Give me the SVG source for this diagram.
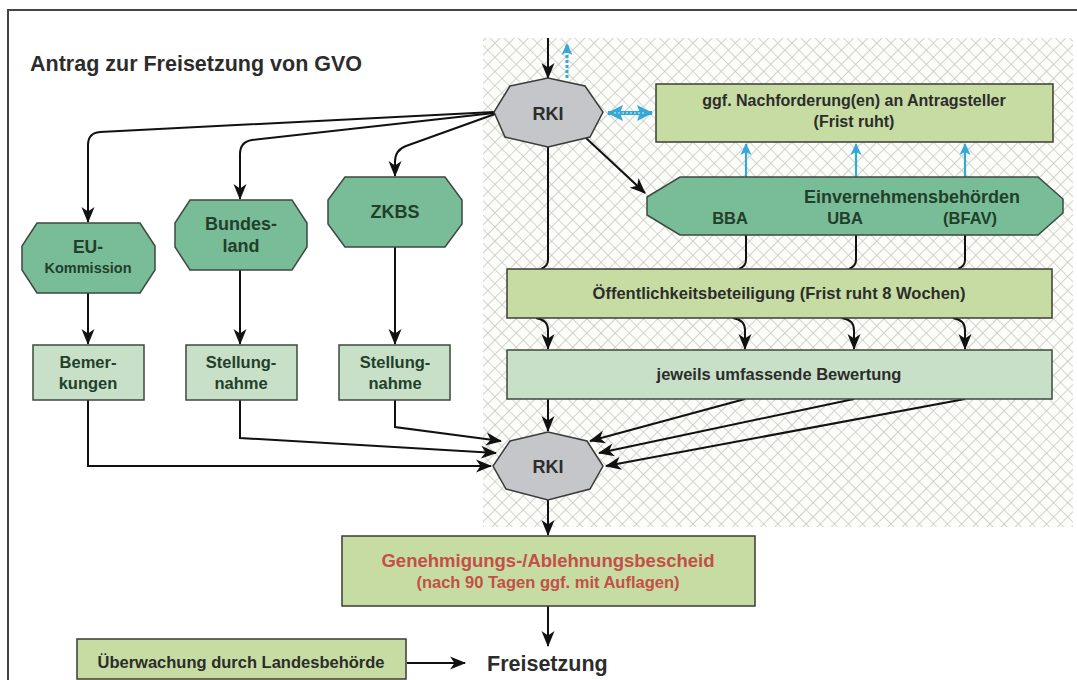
<svg xmlns="http://www.w3.org/2000/svg" width="1077" height="680" viewBox="0 0 1077 680">
<defs>
<pattern id="hatch" patternUnits="userSpaceOnUse" width="10" height="10" patternTransform="rotate(45)">
<rect width="10" height="10" fill="#fcfdf9"/>
<path d="M0,0 H10 M0,0 V10" stroke="#c6c8c3" stroke-width="1.6"/>
</pattern>
<marker id="ah" viewBox="0 0 16 14" refX="15" refY="7" markerWidth="16" markerHeight="14" markerUnits="userSpaceOnUse" orient="auto">
<path d="M0,0.5 L16,7 L0,13.5 L4.5,7 z" fill="#111"/>
</marker>
<marker id="bh" viewBox="0 0 16 16" refX="15" refY="8" markerWidth="16" markerHeight="16" markerUnits="userSpaceOnUse" orient="auto-start-reverse">
<path d="M0,0 L16,8 L0,16 L3,8 z" fill="#35a9d6"/>
</marker>
<marker id="bs" viewBox="0 0 12 12" refX="11" refY="6" markerWidth="12" markerHeight="12" markerUnits="userSpaceOnUse" orient="auto">
<path d="M0,0.5 L12,6 L0,11.5 L3,6 z" fill="#35a9d6"/>
</marker>
</defs>
<style>
.t{font-family:"Liberation Sans",Arial,sans-serif;font-weight:bold;text-anchor:middle}
.s{text-anchor:start}
.dg{fill:#233f2b}
.gy{fill:#2c2c2c}
.oct{fill:#78bd98;stroke:#3c4a40;stroke-width:1.5}
.rki{fill:#c4c6c9;stroke:#3a3a3a;stroke-width:1.5}
.yb{fill:#c6dca2;stroke:#3d3d35;stroke-width:1.5}
.mb{fill:#c7e0c7;stroke:#3d4a3d;stroke-width:1.5}
.c{fill:none;stroke:#111;stroke-width:2}
.b{fill:none;stroke:#35a9d6;stroke-width:2.2}
</style>
<rect width="1077" height="680" fill="#ffffff"/>
<path d="M8,680 V10 H1077" fill="none" stroke="#444" stroke-width="2"/>
<rect x="483" y="38" width="590" height="489" fill="url(#hatch)"/>
<text class="t gy s" x="30" y="71" font-size="21.5">Antrag zur Freisetzung von GVO</text>

<g id="connectors">
<line class="c" x1="548" y1="38" x2="548" y2="78" marker-end="url(#ah)"/>
<path class="c" d="M494,112 L100,132 Q88,133 88,145 L88,222" marker-end="url(#ah)"/>
<path class="c" d="M494,113 L252,140 Q240,142 240,154 L240,199" marker-end="url(#ah)"/>
<path class="c" d="M495,114 L406,146 Q395,150 395,162 L395,176" marker-end="url(#ah)"/>
<line class="c" x1="586" y1="138" x2="645" y2="193" marker-end="url(#ah)"/>
<line class="c" x1="88" y1="293" x2="88" y2="344" marker-end="url(#ah)"/>
<line class="c" x1="240" y1="270" x2="240" y2="344" marker-end="url(#ah)"/>
<line class="c" x1="395" y1="247" x2="395" y2="344" marker-end="url(#ah)"/>
<path class="c" d="M548,147 L548,260 Q548,266 541,269"/>
<path class="c" d="M746,235 L746,260 Q746,266 739,269"/>
<path class="c" d="M856,235 L856,260 Q856,266 849,269"/>
<path class="c" d="M965,235 L965,260 Q965,266 958,269"/>
<path class="c" d="M536,318 Q548,320 548,330 L548,349" marker-end="url(#ah)"/>
<path class="c" d="M733,318 Q745,320 745,330 L745,349" marker-end="url(#ah)"/>
<path class="c" d="M842,318 Q854,320 854,330 L854,349" marker-end="url(#ah)"/>
<path class="c" d="M953,318 Q965,320 965,330 L965,349" marker-end="url(#ah)"/>
<line class="c" x1="548" y1="399" x2="548" y2="431" marker-end="url(#ah)"/>
<line class="c" x1="745" y1="399" x2="590" y2="441" marker-end="url(#ah)"/>
<line class="c" x1="854" y1="399" x2="599" y2="453" marker-end="url(#ah)"/>
<line class="c" x1="965" y1="399" x2="606" y2="466" marker-end="url(#ah)"/>
<path class="c" d="M88,400 L88,466 L491,466" marker-end="url(#ah)"/>
<path class="c" d="M240,400 L240,438 L496,453" marker-end="url(#ah)"/>
<path class="c" d="M395,400 L395,427 L501,441" marker-end="url(#ah)"/>
<line class="c" x1="548" y1="500" x2="548" y2="535" marker-end="url(#ah)"/>
<line class="c" x1="548" y1="606" x2="548" y2="646" marker-end="url(#ah)"/>
<line class="c" x1="407" y1="663" x2="465" y2="663" marker-end="url(#ah)"/>
<line x1="608" y1="113" x2="652" y2="113" stroke="#35a9d6" stroke-width="4" marker-start="url(#bh)" marker-end="url(#bh)"/>
<line x1="614" y1="113" x2="646" y2="113" stroke="#d8f0f8" stroke-width="1" stroke-dasharray="2,2"/>
<line x1="567" y1="78" x2="567" y2="44" stroke="#35a9d6" stroke-width="3" stroke-dasharray="3,2" marker-end="url(#bs)"/>
<line class="b" x1="746" y1="177" x2="746" y2="144" marker-end="url(#bs)"/>
<line class="b" x1="856" y1="177" x2="856" y2="144" marker-end="url(#bs)"/>
<line class="b" x1="965" y1="177" x2="965" y2="144" marker-end="url(#bs)"/>
</g>

<g id="rki1">
<polygon class="rki" points="510,86 548,78 585,86 603,112 590,137 548,147 505,137 494,112"/>
<text class="t gy" x="548" y="120" font-size="18">RKI</text>
</g>
<g id="nachforderung">
<rect class="yb" x="656" y="84" width="397" height="58"/>
<text class="t gy" x="854" y="106" font-size="16">ggf. Nachforderung(en) an Antragsteller</text>
<text class="t gy" x="854" y="127" font-size="16">(Frist ruht)</text>
</g>
<g id="einvernehmen">
<polygon class="oct" points="680,177 1038,177 1063,199 1063,213 1038,235 680,235 647,215 647,197"/>
<text class="t dg" x="912" y="203" font-size="18">Einvernehmensbehörden</text>
<text class="t dg" x="730" y="224" font-size="16.5">BBA</text>
<text class="t dg" x="845" y="224" font-size="16.5">UBA</text>
<text class="t dg" x="970" y="224" font-size="16.5">(BFAV)</text>
</g>
<g id="eu">
<polygon class="oct" points="37,223 140,223 155,246 155,270 140,293 37,293 22,270 22,246"/>
<text class="t dg" x="88" y="253" font-size="17.5">EU-</text>
<text class="t dg" x="88" y="273" font-size="14.5">Kommission</text>
</g>
<g id="bundesland">
<polygon class="oct" points="190,200 292,200 307,223 307,247 292,270 190,270 175,247 175,223"/>
<text class="t dg" x="241" y="230" font-size="18">Bundes-</text>
<text class="t dg" x="241" y="252" font-size="18">land</text>
</g>
<g id="zkbs">
<polygon class="oct" points="345,177 445,177 462,200 462,224 445,247 345,247 328,224 328,200"/>
<text class="t dg" x="395" y="218" font-size="18">ZKBS</text>
</g>
<g id="bemerkungen">
<rect class="mb" x="33" y="345" width="111" height="55"/>
<text class="t dg" x="88" y="368" font-size="16.5">Bemer-</text>
<text class="t dg" x="88" y="389" font-size="16.5">kungen</text>
</g>
<g id="stellungnahme1">
<rect class="mb" x="186" y="345" width="111" height="55"/>
<text class="t dg" x="241" y="368" font-size="16.5">Stellung-</text>
<text class="t dg" x="241" y="389" font-size="16.5">nahme</text>
</g>
<g id="stellungnahme2">
<rect class="mb" x="339" y="345" width="111" height="55"/>
<text class="t dg" x="395" y="368" font-size="16.5">Stellung-</text>
<text class="t dg" x="395" y="389" font-size="16.5">nahme</text>
</g>
<g id="oeffentlichkeit">
<rect class="yb" x="507" y="269" width="545" height="49"/>
<text class="t gy" x="779" y="299" font-size="16.5">Öffentlichkeitsbeteiligung (Frist ruht 8 Wochen)</text>
</g>
<g id="bewertung">
<rect class="mb" x="507" y="350" width="545" height="49"/>
<text class="t gy" x="779" y="380" font-size="16.5">jeweils umfassende Bewertung</text>
</g>
<g id="rki2">
<polygon class="rki" points="510,441 548,432 587,441 603,466 590,489 548,500 506,489 493,466"/>
<text class="t gy" x="548" y="473" font-size="18">RKI</text>
</g>
<g id="bescheid">
<rect class="yb" x="342" y="536" width="413" height="70"/>
<text class="t" x="548" y="567" font-size="18.5" fill="#c44f48">Genehmigungs-/Ablehnungsbescheid</text>
<text class="t" x="548" y="588" font-size="16.5" fill="#c44f48">(nach 90 Tagen ggf. mit Auflagen)</text>
</g>
<g id="ueberwachung">
<rect class="yb" x="77" y="639" width="329" height="40"/>
<text class="t gy" x="241" y="668" font-size="16.5">Überwachung durch Landesbehörde</text>
</g>
<g id="freisetzung">
<text class="t gy s" x="487" y="671" font-size="21.5">Freisetzung</text>
</g>
</svg>
